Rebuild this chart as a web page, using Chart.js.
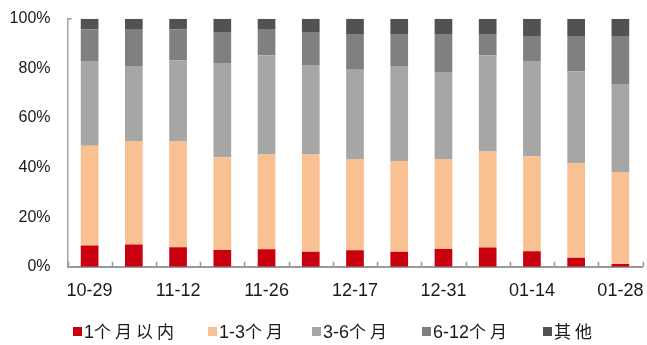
<!DOCTYPE html>
<html>
<head>
<meta charset="utf-8">
<script src="https://cdn.jsdelivr.net/npm/chart.js@4.4.1/dist/chart.umd.min.js"></script>
<style>
  html, body { margin: 0; padding: 0; background: #fff; }
  #wrap { position: relative; width: 647px; height: 345px; }
  #chart { position: absolute; left: 0; top: 0; }
  #legend {
    position: absolute; left: 0; top: 320px; width: 647px; height: 22px;
    font-family: "Liberation Sans", "Noto Sans CJK SC", sans-serif;
    font-size: 18px; color: #1a1a1a; line-height: 22px;
  }
  #legend .item { position: absolute; top: 0; display: flex; align-items: center; white-space: nowrap; }
  #legend .box { width: 9px; height: 9px; margin-right: 2px; flex: none; }
  #legend .cjk { font-family: "Noto Sans CJK SC", sans-serif; font-size: 17px; letter-spacing: 4px; }
</style>
</head>
<body>
<div id="wrap">
  <canvas id="chart" width="647" height="345"></canvas>
  <div id="legend"></div>
</div>
<script>
// Weekly snapshots (every other date is labelled on the axis)
const dates = ['10-29', '11-05', '11-12', '11-19', '11-26', '12-10', '12-17',
               '12-24', '12-31', '01-07', '01-14', '01-21', '01-28'];

const seriesNames = ['1个月以内', '1-3个月', '3-6个月', '6-12个月', '其他'];
const seriesColors = ['#C8000F', '#F9C091', '#A6A6A6', '#808080', '#525252'];

// Share of each maturity bucket, percent
const within1m = [8.5, 9.0, 7.8, 6.7, 7.0, 6.0, 6.6, 6.0, 7.1, 7.7, 6.2, 3.6, 1.1];
const m1to3    = [40.3, 41.7, 42.9, 37.4, 38.2, 39.2, 36.8, 36.6, 36.3, 38.8, 38.3, 38.1, 37.1];
const m3to6    = [34.1, 30.2, 32.4, 38.0, 40.1, 36.1, 36.0, 38.3, 35.1, 38.8, 38.4, 37.1, 35.5];
const m6to12   = [12.8, 14.9, 12.5, 12.5, 10.5, 13.3, 14.4, 12.9, 15.3, 8.5, 10.1, 14.2, 19.3];
const others   = [4.3, 4.2, 4.4, 5.4, 4.2, 5.4, 6.2, 6.2, 6.2, 6.2, 7.0, 7.0, 7.0];

const yTicks = [0, 20, 40, 60, 80, 100];

// Left edge of each legend entry, px
const legendX = [73, 208, 312, 422, 543];

const seriesData = [within1m, m1to3, m3to6, m6to12, others];

const datasets = seriesNames.map((name, i) => ({
  label: name,
  data: seriesData[i],
  backgroundColor: seriesColors[i],
  borderWidth: 0,
  barPercentage: 0.4,
  categoryPercentage: 1.0
}));

// Keep the plot area fixed: no extra room reserved for overhanging tick labels
function fixScale(size) {
  return function (scale) {
    if (scale.isHorizontal()) scale.height = size; else scale.width = size;
    scale.paddingTop = 0;
    scale.paddingBottom = 0;
    scale.paddingLeft = 0;
    scale.paddingRight = 0;
  };
}

// Small inward tick marks on the category boundaries and at the top of the value axis
const axisMarks = {
  id: 'axisMarks',
  afterDatasetsDraw(chart) {
    const { ctx, chartArea, scales } = chart;
    const xs = scales.x, ys = scales.y;
    ctx.save();
    ctx.strokeStyle = '#999999';
    ctx.lineWidth = 1.5;
    ctx.beginPath();
    for (let i = 0; i <= dates.length; i++) {
      const px = Math.round(xs.getPixelForValue(i - 0.5)) + 0.5;
      ctx.moveTo(px, chartArea.bottom);
      ctx.lineTo(px, chartArea.bottom - 5);
    }
    const top = ys.getPixelForValue(100);
    ctx.moveTo(chartArea.left, top);
    ctx.lineTo(chartArea.left + 4, top);
    ctx.stroke();
    ctx.restore();
  }
};

new Chart(document.getElementById('chart'), {
  type: 'bar',
  data: { labels: dates, datasets },
  options: {
    responsive: false,
    animation: false,
    devicePixelRatio: 1,
    layout: { padding: { top: 18.7, right: 4.5, left: 0, bottom: 0 } },
    plugins: { legend: { display: false }, tooltip: { enabled: false } },
    scales: {
      x: {
        stacked: true,
        grid: { display: false, drawTicks: false },
        border: { display: true, color: '#999999', width: 2 },
        afterFit: fixScale(78.3),
        ticks: {
          autoSkip: false,
          maxRotation: 0,
          padding: 14,
          color: '#1a1a1a',
          font: { family: 'Liberation Sans', size: 18 },
          callback(value, index) { return index % 2 === 0 ? dates[index] : ''; }
        }
      },
      y: {
        stacked: true,
        min: 0,
        max: 100,
        afterFit: fixScale(67.5),
        afterBuildTicks(scale) { scale.ticks = yTicks.map(v => ({ value: v })); },
        grid: { display: false, drawTicks: false },
        border: { display: true, color: '#A6A6A6', width: 1.5 },
        ticks: {
          padding: 17,
          color: '#1a1a1a',
          font: { family: 'Liberation Sans', size: 16 },
          callback(value) { return value + '%'; }
        }
      }
    }
  },
  plugins: [axisMarks]
});

// Legend row built from the same series names and colours;
// CJK runs get their own font and spacing, digits stay in the Latin font
const legend = document.getElementById('legend');
seriesNames.forEach((name, i) => {
  const item = document.createElement('div');
  item.className = 'item';
  item.style.left = legendX[i] + 'px';
  const box = document.createElement('span');
  box.className = 'box';
  box.style.background = seriesColors[i];
  item.appendChild(box);
  const label = document.createElement('span');
  name.match(/[\u4e00-\u9fff]+|[^\u4e00-\u9fff]+/g).forEach(run => {
    const part = document.createElement('span');
    if (/[\u4e00-\u9fff]/.test(run)) part.className = 'cjk';
    part.textContent = run;
    label.appendChild(part);
  });
  item.appendChild(label);
  legend.appendChild(item);
});
</script>
</body>
</html>
